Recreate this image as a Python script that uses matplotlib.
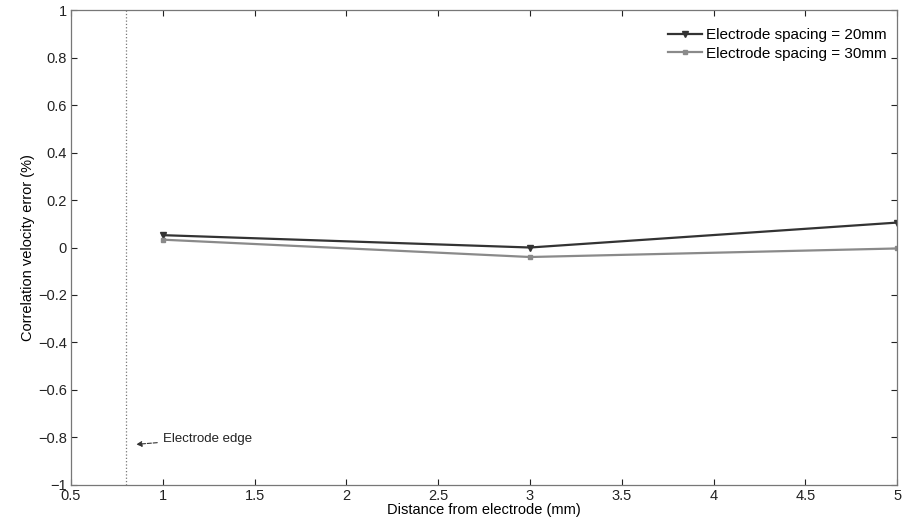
import matplotlib
matplotlib.use("Agg")
import matplotlib.pyplot as plt

plt.rcParams["font.family"] = ["Liberation Sans", "DejaVu Sans"]
plt.rcParams["axes.unicode_minus"] = True

# data
distance = [1, 3, 5]
err_20mm = [0.052, 0.0, 0.105]
err_30mm = [0.033, -0.04, -0.004]
labels = ["Electrode spacing = 20mm", "Electrode spacing = 30mm"]
edge_x = 0.8

fig = plt.figure(figsize=(9.02, 5.3), dpi=100)
ax = fig.add_axes([0.0787, 0.085, 0.916, 0.896])

ax.plot(distance, err_20mm, color="#333333", linewidth=1.6,
        marker="v", markersize=4, label=labels[0])
ax.plot(distance, err_30mm, color="#8a8a8a", linewidth=1.6,
        marker="s", markersize=3, label=labels[1])

ax.axvline(edge_x, color="#777777", linestyle=":", linewidth=0.9)
ax.annotate("Electrode edge", xy=(0.84, -0.83), xytext=(1.0, -0.805),
            fontsize=9.5, color="#222222", va="center",
            arrowprops=dict(arrowstyle="-|>", color="#333333", lw=0.8,
                            linestyle="--", mutation_scale=8))

ax.set_xlim(0.5, 5)
ax.set_ylim(-1, 1)
ax.set_xticks([0.5, 1, 1.5, 2, 2.5, 3, 3.5, 4, 4.5, 5])
ax.set_xticklabels(["0.5", "1", "1.5", "2", "2.5", "3", "3.5", "4", "4.5", "5"])
ax.set_yticks([-1, -0.8, -0.6, -0.4, -0.2, 0, 0.2, 0.4, 0.6, 0.8, 1])
ax.set_yticklabels(["\u22121", "\u22120.8", "\u22120.6", "\u22120.4", "\u22120.2",
                    "0", "0.2", "0.4", "0.6", "0.8", "1"])
ax.tick_params(direction="in", length=4, labelsize=10.5, colors="#222222",
               top=True, right=True, pad=3)
for s in ax.spines.values():
    s.set_color("#777777")
    s.set_linewidth(0.9)

ax.set_xlabel("Distance from electrode (mm)", fontsize=10.5, labelpad=0)
ax.set_ylabel("Correlation velocity error (%)", fontsize=10.5, labelpad=2)

ax.legend(loc="upper right", frameon=False, fontsize=11, handlelength=2.2,
          bbox_to_anchor=(0.995, 0.975), borderaxespad=0.0,
          labelspacing=0.3, handletextpad=0.3)

fig.savefig("out.png", dpi=100)
